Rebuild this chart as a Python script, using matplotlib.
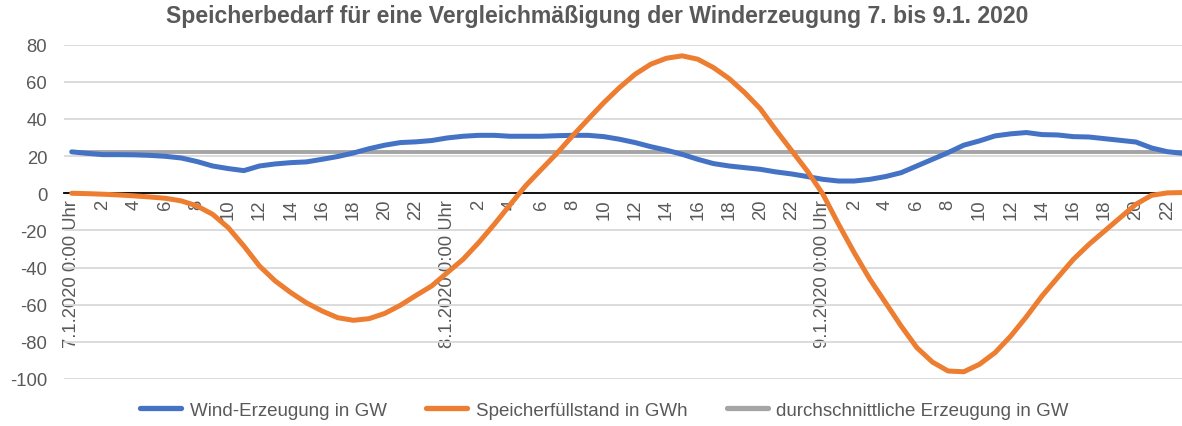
import matplotlib
matplotlib.use("Agg")
import matplotlib.pyplot as plt

plt.rcParams['font.family'] = ['Liberation Sans', 'DejaVu Sans']

hours = list(range(72))

wind = [22.3, 21.5, 20.8, 20.8, 20.7, 20.4, 19.9, 19.0, 17.1, 14.7,
        13.3, 12.2, 14.7, 15.8, 16.5, 16.9, 18.3, 19.8, 21.7, 24.0,
        25.9, 27.3, 27.7, 28.4, 29.8, 30.7, 31.2, 31.2, 30.7, 30.7,
        30.7, 31.0, 31.2, 31.2, 30.5, 29.1, 27.3, 25.1, 23.2, 21.0,
        18.3, 16.0, 14.7, 13.8, 12.9, 11.5, 10.4, 9.0, 7.5, 6.6,
        6.6, 7.5, 9.0, 11.1, 14.7, 18.3, 21.9, 25.9, 28.2, 30.9,
        32.0, 32.7, 31.6, 31.4, 30.5, 30.3, 29.4, 28.5, 27.6, 24.4,
        22.4, 21.5]

speicher = [0.0, -0.2, -0.5, -0.9, -1.4, -2.0, -2.7, -4.1, -6.8, -11.3,
            -18.5, -28.4, -39.2, -47.2, -53.5, -59.0, -63.4, -67.0, -68.4, -67.5,
            -64.7, -60.3, -55.0, -49.9, -42.7, -35.6, -26.6, -16.7, -6.3, 4.0,
            12.8, 21.5, 30.9, 39.9, 48.8, 56.9, 64.1, 69.5, 72.7, 74.0,
            72.2, 67.7, 61.8, 54.2, 45.5, 34.0, 23.0, 12.0, -0.5, -16.7,
            -32.0, -46.3, -58.9, -71.5, -83.1, -90.9, -95.7, -96.1, -92.1, -85.8,
            -76.9, -66.5, -55.3, -45.4, -35.6, -27.5, -20.3, -13.1, -5.9, -1.1,
            0.2, 0.4]

durchschnitt = [22.0] * 72

tick_hours = list(range(0, 72, 2))
tick_labels = []
for h in tick_hours:
    if h == 0:
        tick_labels.append("7.1.2020 0:00 Uhr")
    elif h == 24:
        tick_labels.append("8.1.2020 0:00 Uhr")
    elif h == 48:
        tick_labels.append("9.1.2020 0:00 Uhr")
    else:
        tick_labels.append(str(h % 24))

y_ticks = list(range(-100, 81, 20))

title = "Speicherbedarf für eine Vergleichmäßigung der Winderzeugung 7. bis 9.1. 2020"
labels = ["Wind-Erzeugung in GW", "Speicherfüllstand in GWh", "durchschnittliche Erzeugung in GW"]

TXT = '#595959'
W, H = 1182, 427
fig = plt.figure(figsize=(W / 100, H / 100), dpi=100)
ax = fig.add_axes([63.9 / W, 47 / H, 1126.8 / W, 334.3 / H])

for s in ['top', 'right', 'left']:
    ax.spines[s].set_visible(False)
ax.spines['bottom'].set_position(('data', 0))
ax.spines['bottom'].set_color('black')
ax.spines['bottom'].set_linewidth(1.3)
ax.spines['bottom'].set_zorder(2)

l3, = ax.plot(hours, durchschnitt, color='#A5A5A5', lw=2.8, solid_capstyle='round', zorder=3)
l1, = ax.plot(hours, wind, color='#4472C4', lw=3.6, solid_capstyle='round', solid_joinstyle='round', zorder=4)
l2, = ax.plot(hours, speicher, color='#ED7D31', lw=3.6, solid_capstyle='round', solid_joinstyle='round', zorder=5)

ax.set_xlim(-0.5, 71.5)
ax.set_ylim(-100, 80)
ax.set_yticks(y_ticks)
ax.set_yticklabels([str(v) for v in y_ticks])
ax.set_xticks(tick_hours)
ax.set_xticklabels(tick_labels)

ax.grid(axis='y', color='#D9D9D9', lw=1.3, zorder=0)
ax.set_axisbelow(True)
ax.tick_params(axis='x', length=0, pad=4, labelsize=13.3, labelcolor=TXT, labelrotation=90)
ax.tick_params(axis='y', length=0, pad=12, labelsize=13.3, labelcolor=TXT)
for t in ax.get_xticklabels():
    t.set_va('top')
    t.set_ha('center')

fig.text(597 / W, 1 - 17 / H, title, ha='center', va='center',
         fontweight='bold', fontsize=16.6, color=TXT)

leg = fig.legend([l1, l2, l3], labels, loc='center', bbox_to_anchor=(604.5 / W, 1 - 411 / H),
                 ncol=3, frameon=False, fontsize=13.5, handlelength=2.2,
                 handletextpad=0.45, columnspacing=2.1)
for t in leg.get_texts():
    t.set_color(TXT)
for hl in leg.get_lines():
    hl.set_linewidth(3.8)

fig.savefig('out.png', dpi=100)
